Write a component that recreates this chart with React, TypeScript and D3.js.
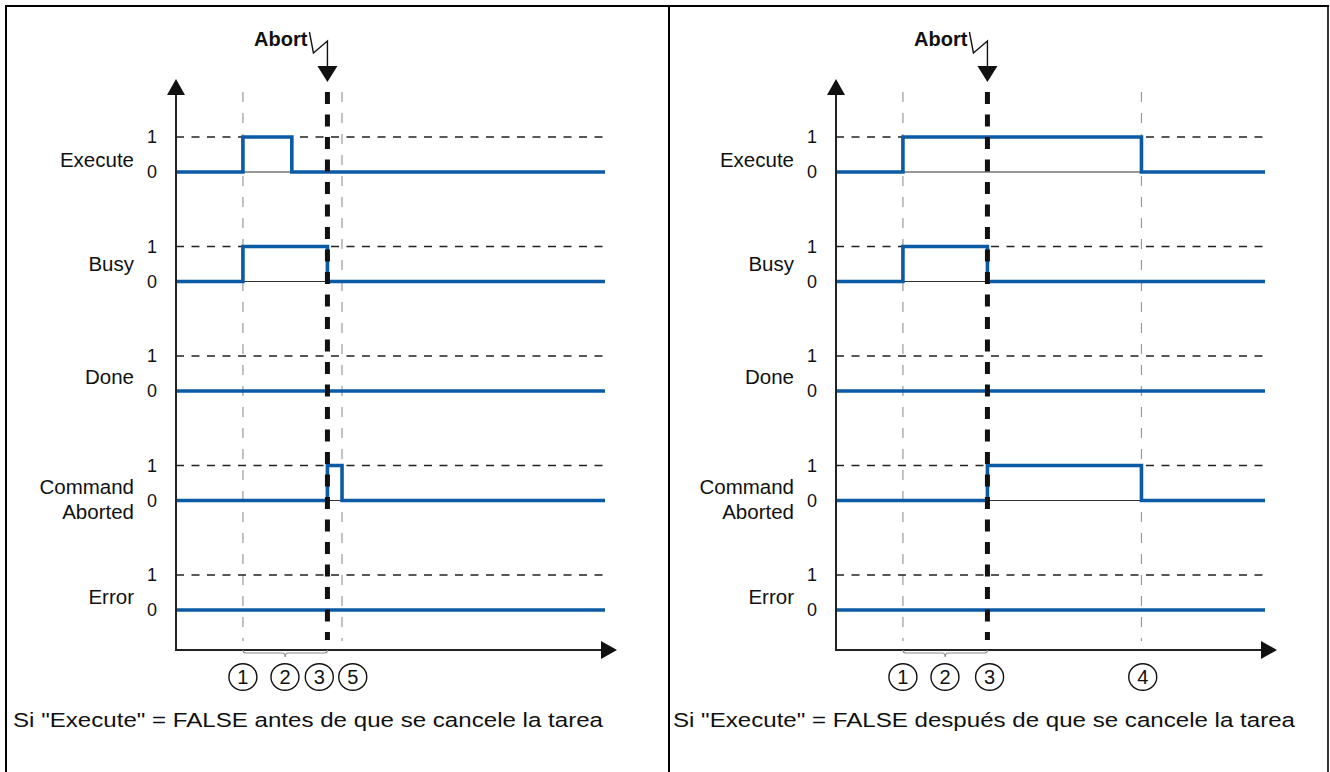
import React from "react";
import * as d3 from "d3";

// ---- data ----
const signalNames = ["Execute", "Busy", "Done", "Command Aborted", "Error"];
const levelTicks = ["1", "0"];

// step points [time, value] per signal, time in arbitrary units 0..100
const leftSignals: [number, number][][] = [
  [[0, 0], [15.6, 1], [27, 0], [100, 0]],
  [[0, 0], [15.6, 1], [35.3, 0], [100, 0]],
  [[0, 0], [100, 0]],
  [[0, 0], [35.3, 1], [38.7, 0], [100, 0]],
  [[0, 0], [100, 0]],
];
const rightSignals: [number, number][][] = [
  [[0, 0], [15.6, 1], [71.2, 0], [100, 0]],
  [[0, 0], [15.6, 1], [35.3, 0], [100, 0]],
  [[0, 0], [100, 0]],
  [[0, 0], [35.3, 1], [71.2, 0], [100, 0]],
  [[0, 0], [100, 0]],
];
const leftAbortTime = 35.3;
const rightAbortTime = 35.3;
const leftThinMarkers = [15.6, 38.7];
const rightThinMarkers = [15.6, 71.2];
const leftCircleLabels = ["1", "2", "3", "5"];
const leftCircleTimes = [15.6, 25.4, 33.4, 41.2];
const rightCircleLabels = ["1", "2", "3", "4"];
const rightCircleTimes = [15.6, 25.4, 35.8, 71.5];
const leftBrace: [number, number] = [15.6, 35.3];
const rightBrace: [number, number] = [15.6, 35.3];
const captions = [
  'Si "Execute" = FALSE antes de que se cancele la tarea',
  'Si "Execute" = FALSE después de que se cancele la tarea',
];

// ---- layout / style ----
const FONT = "'Liberation Sans', Arial, Helvetica, sans-serif";
const BLUE = "#0b5aa6";
const PANEL_OFFSET = 660;
const AXIS_X = 176;
const AXIS_Y = 650;
const ROW_TOP = 137;
const ROW_STEP = 109.5;
const ROW_AMP = 35;
const labelBaselineOffsets = [-5, -11, -7, -7, -6];

type PanelProps = {
  dx: number;
  signals: [number, number][][];
  abortTime: number;
  thinMarkers: number[];
  circleLabels: string[];
  circleTimes: number[];
  brace: [number, number];
  caption: string;
  captionLen: number;
};

function Panel(p: PanelProps) {
  const x = d3.scaleLinear().domain([0, 100]).range([AXIS_X + p.dx, 605 + p.dx]);
  const ax = x(p.abortTime);
  const axisX = AXIS_X + p.dx;
  const rows = signalNames.map((name, i) => {
    const top = ROW_TOP + i * ROW_STEP;
    const y = d3.scaleLinear().domain([0, 1]).range([top + ROW_AMP, top]);
    return { name, i, y };
  });
  const line = (yS: d3.ScaleLinear<number, number>) =>
    d3
      .line<[number, number]>()
      .x((d) => x(d[0]))
      .y((d) => yS(d[1]))
      .curve(d3.curveStepAfter);

  const [b1, b2] = p.brace.map((t) => x(t));
  const bm = (b1 + b2) / 2;
  const braceY = AXIS_Y + 3;
  const bracePath = `M${b1},${AXIS_Y} q0,3 3,3 L${bm - 3},${braceY} q3,0 3,4 q0,-4 3,-4 L${b2 - 3},${braceY} q3,0 3,-3`;

  return (
    <g>
      {/* thin gray time markers */}
      {p.thinMarkers.map((t, k) => (
        <line key={k} x1={x(t)} x2={x(t)} y1={92} y2={641} stroke="#9a9a9a" strokeWidth={1.2} strokeDasharray="10 11" />
      ))}
      {rows.map(({ name, i, y }) => {
        const parts = name.split(" ");
        const base = y(0) + labelBaselineOffsets[i];
        return (
          <g key={name}>
            {/* dashed 1-level */}
            <line x1={axisX} x2={x(100)} y1={y(1)} y2={y(1)} stroke="#222" strokeWidth={1.5} strokeDasharray="8 7.5" />
            {/* thin 0-level */}
            <line x1={axisX} x2={x(100)} y1={y(0)} y2={y(0)} stroke="#333" strokeWidth={1} />
            <path d={line(y)(p.signals[i]) || ""} fill="none" stroke={BLUE} strokeWidth={3.6} strokeLinejoin="miter" />
            {levelTicks.map((t) => (
              <text key={t} x={152 + p.dx} y={y(+t)} dy="0.36em" textAnchor="middle" fontSize={18} fontFamily={FONT} fill="#111">
                {t}
              </text>
            ))}
            {parts.length === 1 ? (
              <text x={134 + p.dx} y={base} textAnchor="end" fontSize={20.5} fontFamily={FONT} fill="#111">
                {name}
              </text>
            ) : (
              <text textAnchor="end" fontSize={20.5} fontFamily={FONT} fill="#111">
                <tspan x={134 + p.dx} y={base}>{parts[0]}</tspan>
                <tspan x={134 + p.dx} y={base + 25}>{parts[1]}</tspan>
              </text>
            )}
          </g>
        );
      })}
      {/* thick abort line */}
      <line x1={ax} x2={ax} y1={92} y2={640} stroke="#111" strokeWidth={5} strokeDasharray="12 10.5" />
      {/* axes */}
      <line x1={axisX} x2={axisX} y1={AXIS_Y + 1} y2={92} stroke="#222" strokeWidth={2} />
      <path d={`M${axisX},79 L${axisX + 9},95 L${axisX - 9},95 Z`} fill="#111" />
      <line x1={axisX - 1} x2={x(100) + 0} y1={AXIS_Y} y2={AXIS_Y} stroke="#222" strokeWidth={2} />
      <line x1={x(100)} x2={617 + p.dx - 14} y1={AXIS_Y} y2={AXIS_Y} stroke="#222" strokeWidth={2} />
      <path d={`M${617 + p.dx},${AXIS_Y} L${601 + p.dx},${AXIS_Y - 9} L${601 + p.dx},${AXIS_Y + 9} Z`} fill="#111" />
      {/* brace */}
      <path d={bracePath} fill="none" stroke="#8a8a8a" strokeWidth={1.2} />
      {/* abort annotation */}
      <text x={ax - 20} y={46} textAnchor="end" fontSize={20} fontWeight="bold" fontFamily={FONT} fill="#111">
        Abort
      </text>
      <polyline points={`${ax - 18},32 ${ax - 14},53 ${ax},41 ${ax},67`} fill="none" stroke="#111" strokeWidth={1.4} />
      <path d={`M${ax - 10},66 L${ax + 10},66 L${ax},82 Z`} fill="#111" />
      {/* circled numbers */}
      {p.circleLabels.map((lab, k) => (
        <g key={k}>
          <ellipse cx={x(p.circleTimes[k])} cy={677} rx={14} ry={13.3} fill="white" stroke="#111" strokeWidth={1.4} />
          <text x={x(p.circleTimes[k])} y={677} dy="0.36em" textAnchor="middle" fontSize={20} fontFamily={FONT} fill="#111">
            {lab}
          </text>
        </g>
      ))}
      {/* caption */}
      <text x={13 + p.dx} y={727} fontSize={20.5} fontFamily={FONT} fill="#111" textLength={p.captionLen} lengthAdjust="spacingAndGlyphs">
        {p.caption}
      </text>
    </g>
  );
}

export default function App() {
  return (
    <svg width={1330} height={772} style={{ position: "absolute", left: 0, top: 0, background: "white" }}>
      <rect x={0} y={0} width={1330} height={772} fill="white" />
      {/* frame */}
      <line x1={5} x2={1329} y1={6} y2={6} stroke="#000" strokeWidth={2} />
      <line x1={6} x2={6} y1={5} y2={772} stroke="#000" strokeWidth={2} />
      <line x1={669} x2={669} y1={5} y2={772} stroke="#000" strokeWidth={2} />
      <line x1={1328} x2={1328} y1={5} y2={772} stroke="#000" strokeWidth={1.6} />
      <Panel
        dx={0}
        signals={leftSignals}
        abortTime={leftAbortTime}
        thinMarkers={leftThinMarkers}
        circleLabels={leftCircleLabels}
        circleTimes={leftCircleTimes}
        brace={leftBrace}
        caption={captions[0]}
        captionLen={590}
      />
      <Panel
        dx={PANEL_OFFSET}
        signals={rightSignals}
        abortTime={rightAbortTime}
        thinMarkers={rightThinMarkers}
        circleLabels={rightCircleLabels}
        circleTimes={rightCircleTimes}
        brace={rightBrace}
        caption={captions[1]}
        captionLen={622}
      />
    </svg>
  );
}
